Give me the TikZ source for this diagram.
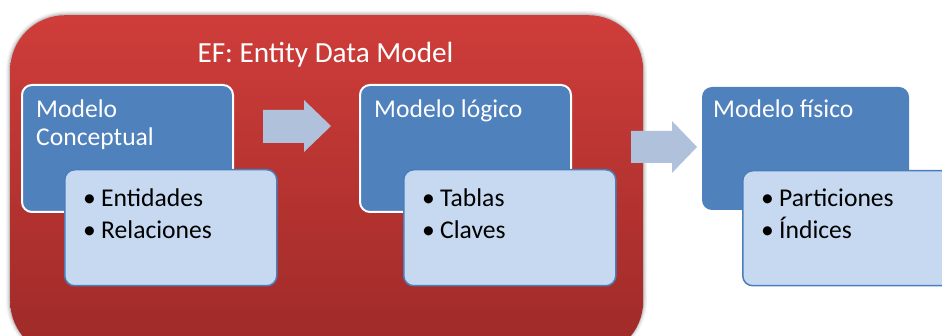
\documentclass[tikz,border=0pt]{standalone}
\usepackage{fontspec}
\setmainfont{Carlito}
\definecolor{redtop}{HTML}{CF3D3A}
\definecolor{redbot}{HTML}{9D2A28}
\definecolor{blueA}{HTML}{4F81BD}
\definecolor{lightA}{HTML}{C6D9F1}
\definecolor{arrowA}{HTML}{B0C1DB}
\definecolor{edgeA}{HTML}{4A7EBB}
\tikzset{
  redbox/.style={rounded corners=55pt, top color=redtop, bottom color=redbot, draw=none, inner sep=0pt, anchor=north west},
  bluebox/.style={rounded corners=10pt, fill=blueA, draw=white, line width=2pt, inner sep=0pt, anchor=north west, minimum width=211pt, minimum height=127pt},
  lightbox/.style={rounded corners=10pt, fill=lightA, draw=edgeA, line width=1.5pt, inner sep=0pt, anchor=north west, minimum width=212pt, minimum height=116pt},
  blockarrow/.style={fill=arrowA, draw=none},
  headtxt/.style={text=white, font=\fontsize{25.6}{28}\selectfont, anchor=base west, inner sep=0pt},
  itemtxt/.style={text=black, font=\fontsize{25.6}{28}\selectfont, anchor=base west, inner sep=0pt},
  titletxt/.style={text=white, font=\fontsize{29.2}{32}\selectfont, anchor=base, inner sep=0pt}
}
\newcommand{\bul}[1]{\makebox[18pt][l]{•}#1}
\begin{document}
\begin{tikzpicture}[x=1pt,y=-1pt]
\useasboundingbox (0,0) rectangle (942,336);
\clip (0,0) rectangle (942,336);
\fill[white] (0,0) rectangle (942,336);
% outer red container with soft edge
\foreach \w/\o in {8/0.05,5/0.08,2.5/0.12}{
  \draw[line width=\w pt, black, opacity=\o, rounded corners=56pt] (10,15) rectangle (643,356);
}
\node[redbox, minimum width=633pt, minimum height=341pt] (ef) at (10,15) {};
\node[titletxt] (title) at (325.5,63) {EF: Entity Data Model};
% conceptual
\node[bluebox] (c1) at (21,84) {};
\node[headtxt] (c1h1) at (36,118) {Modelo};
\node[headtxt] (c1h2) at (36,146) {Conceptual};
\node[lightbox] (c1l) at (64,169) {};
\node[itemtxt] (c1i1) at (83,207) {\bul{Entidades}};
\node[itemtxt] (c1i2) at (83,239) {\bul{Relaciones}};
% logical
\node[bluebox] (c2) at (359,84) {};
\node[headtxt] (c2h1) at (374,118) {Modelo lógico};
\node[lightbox] (c2l) at (403,169) {};
\node[itemtxt] (c2i1) at (422,207) {\bul{Tablas}};
\node[itemtxt] (c2i2) at (422,239) {\bul{Claves}};
% physical
\node[bluebox, draw=none, minimum width=207pt, minimum height=123pt] (c3) at (701,86) {};
\node[headtxt] (c3h1) at (713,118) {Modelo físico};
\node[lightbox, minimum width=230pt, minimum height=115pt] (c3l) at (742,170) {};
\node[itemtxt] (c3i1) at (761,207) {\bul{Particiones}};
\node[itemtxt] (c3i2) at (761,239) {\bul{Índices}};
% block arrows
\fill[blockarrow] (263,110) -- (304,110) -- (304,100) -- (331,126) -- (304,152) -- (304,143) -- (263,143) -- cycle;
\fill[blockarrow] (631,131) -- (672,131) -- (672,121) -- (697,147) -- (672,173) -- (672,163) -- (631,163) -- cycle;
\end{tikzpicture}
\end{document}
